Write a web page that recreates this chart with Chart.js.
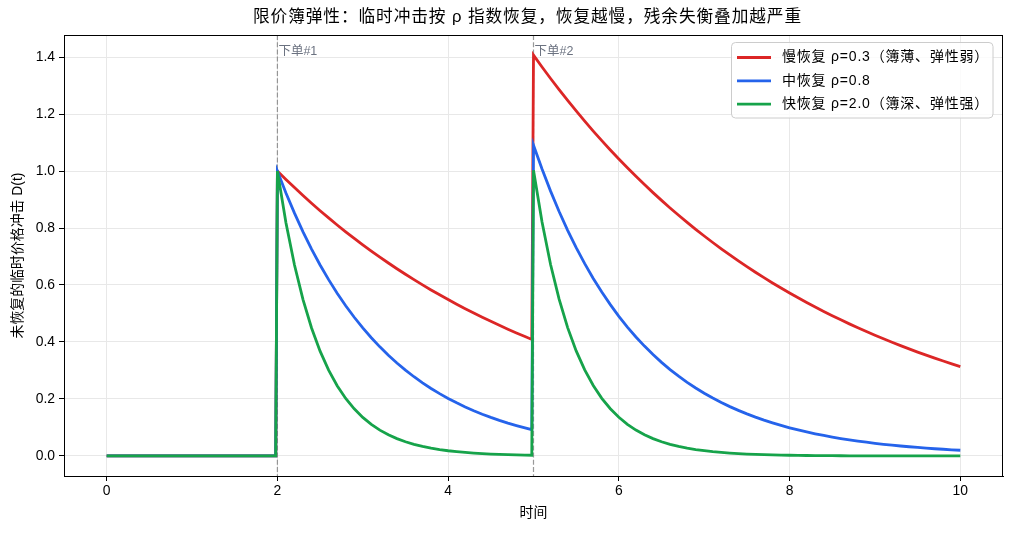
<!DOCTYPE html>
<html>
<head>
<meta charset="utf-8">
<script src="https://cdn.jsdelivr.net/npm/chart.js@4/dist/chart.umd.min.js"></script>
<style>
  html, body { margin: 0; padding: 0; background: #fff; }
  #wrap { width: 1012px; height: 534px; position: relative; }
</style>
</head>
<body>
<div id="wrap"><canvas id="c" width="1012" height="534"></canvas></div>
<script>
const FONT = '"Liberation Sans", "Noto Sans CJK SC", sans-serif';

const chartTitle = '限价簿弹性：临时冲击按 ρ 指数恢复，恢复越慢，残余失衡叠加越严重';
const xLabel = '时间';
const yLabel = '未恢复的临时价格冲击 D(t)';
const seriesNames = ['慢恢复 ρ=0.3（簿薄、弹性弱）', '中恢复 ρ=0.8', '快恢复 ρ=2.0（簿深、弹性强）'];
const seriesColors = ['#dc2626', '#2563eb', '#16a34a'];
const orderTimes = [2, 5];
const orderLabels = ['下单#1', '下单#2'];
const xTicks = [0, 2, 4, 6, 8, 10];
const yTicks = [0.0, 0.2, 0.4, 0.6, 0.8, 1.0, 1.2, 1.4];

const time = [0, 1.98,
  2.0, 2.1, 2.2, 2.3, 2.4, 2.5, 2.6, 2.7, 2.8, 2.9,
  3.0, 3.1, 3.2, 3.3, 3.4, 3.5, 3.6, 3.7, 3.8, 3.9,
  4.0, 4.1, 4.2, 4.3, 4.4, 4.5, 4.6, 4.7, 4.8, 4.9, 4.98,
  5.0, 5.1, 5.2, 5.3, 5.4, 5.5, 5.6, 5.7, 5.8, 5.9,
  6.0, 6.1, 6.2, 6.3, 6.4, 6.5, 6.6, 6.7, 6.8, 6.9,
  7.0, 7.1, 7.2, 7.3, 7.4, 7.5, 7.6, 7.7, 7.8, 7.9,
  8.0, 8.1, 8.2, 8.3, 8.4, 8.5, 8.6, 8.7, 8.8, 8.9,
  9.0, 9.1, 9.2, 9.3, 9.4, 9.5, 9.6, 9.7, 9.8, 9.9, 10.0];

const slow = [0, 0,
  1.0000, 0.9704, 0.9418, 0.9139, 0.8869, 0.8607, 0.8353, 0.8106, 0.7866, 0.7634,
  0.7408, 0.7189, 0.6977, 0.6771, 0.6570, 0.6376, 0.6188, 0.6005, 0.5827, 0.5655,
  0.5488, 0.5326, 0.5169, 0.5016, 0.4868, 0.4724, 0.4584, 0.4449, 0.4317, 0.4190, 0.4090,
  1.4066, 1.3650, 1.3247, 1.2855, 1.2475, 1.2107, 1.1749, 1.1402, 1.1064, 1.0738,
  1.0420, 1.0112, 0.9814, 0.9524, 0.9241, 0.8969, 0.8704, 0.8447, 0.8196, 0.7954,
  0.7719, 0.7491, 0.7271, 0.7056, 0.6847, 0.6645, 0.6448, 0.6258, 0.6072, 0.5894,
  0.5719, 0.5550, 0.5386, 0.5227, 0.5072, 0.4922, 0.4777, 0.4636, 0.4498, 0.4366,
  0.4237, 0.4112, 0.3990, 0.3872, 0.3757, 0.3646, 0.3539, 0.3434, 0.3332, 0.3234, 0.3138];

const medium = [0, 0,
  1.0000, 0.9231, 0.8521, 0.7866, 0.7261, 0.6703, 0.6188, 0.5712, 0.5273, 0.4868,
  0.4493, 0.4148, 0.3829, 0.3535, 0.3263, 0.3012, 0.2780, 0.2567, 0.2369, 0.2187,
  0.2019, 0.1864, 0.1720, 0.1588, 0.1466, 0.1353, 0.1249, 0.1153, 0.1065, 0.0983, 0.0922,
  1.0907, 1.0068, 0.9294, 0.8580, 0.7920, 0.7311, 0.6749, 0.6230, 0.5751, 0.5310,
  0.4901, 0.4524, 0.4176, 0.3856, 0.3559, 0.3285, 0.3032, 0.2800, 0.2584, 0.2385,
  0.2202, 0.2033, 0.1876, 0.1732, 0.1599, 0.1476, 0.1362, 0.1258, 0.1162, 0.1072,
  0.0989, 0.0913, 0.0843, 0.0779, 0.0719, 0.0663, 0.0612, 0.0565, 0.0521, 0.0482,
  0.0445, 0.0410, 0.0378, 0.0350, 0.0323, 0.0298, 0.0275, 0.0254, 0.0235, 0.0216, 0.0200];

const fast = [0, 0,
  1.0000, 0.8187, 0.6703, 0.5488, 0.4493, 0.3679, 0.3012, 0.2466, 0.2019, 0.1653,
  0.1353, 0.1108, 0.0907, 0.0743, 0.0608, 0.0498, 0.0408, 0.0334, 0.0273, 0.0224,
  0.0183, 0.0150, 0.0123, 0.0101, 0.0082, 0.0067, 0.0055, 0.0045, 0.0037, 0.0030, 0.0026,
  1.0025, 0.8208, 0.6720, 0.5502, 0.4504, 0.3688, 0.3020, 0.2472, 0.2024, 0.1657,
  0.1357, 0.1111, 0.0909, 0.0745, 0.0610, 0.0499, 0.0409, 0.0335, 0.0274, 0.0224,
  0.0184, 0.0150, 0.0123, 0.0101, 0.0082, 0.0068, 0.0055, 0.0045, 0.0037, 0.0030,
  0.0025, 0.0020, 0.0017, 0.0014, 0.0011, 0.0009, 0.0007, 0.0006, 0.0005, 0.0004,
  0.0003, 0.0003, 0.0002, 0.0002, 0.0002, 0.0001, 0.0001, 0.0001, 0.0001, 0.0001, 0.0000];

const seriesValues = [slow, medium, fast];

const datasets = seriesValues.map((vals, i) => ({
  label: seriesNames[i],
  data: time.map((t, j) => ({ x: t, y: vals[j] })),
  borderColor: seriesColors[i],
  backgroundColor: seriesColors[i],
  borderWidth: 2.8,
  pointRadius: 0,
  tension: 0,
  fill: false,
  order: seriesValues.length - i
}));

const decorPlugin = {
  id: 'decor',
  beforeDatasetsDraw(chart) {
    const { ctx, chartArea, scales } = chart;
    ctx.save();
    ctx.strokeStyle = 'rgba(128,128,128,0.8)';
    ctx.lineWidth = 1.2;
    ctx.setLineDash([5, 2.2]);
    orderTimes.forEach((t) => {
      const x = scales.x.getPixelForValue(t);
      ctx.beginPath();
      ctx.moveTo(x, chartArea.top);
      ctx.lineTo(x, chartArea.bottom);
      ctx.stroke();
    });
    ctx.setLineDash([]);
    ctx.fillStyle = '#6b7280';
    ctx.font = '12.5px ' + FONT;
    ctx.textAlign = 'left';
    ctx.textBaseline = 'middle';
    orderTimes.forEach((t, i) => {
      const x = scales.x.getPixelForValue(t);
      ctx.fillText(orderLabels[i], x + 1, chartArea.top + 17);
    });
    ctx.restore();
  },
  afterDraw(chart) {
    const { ctx, chartArea } = chart;
    ctx.save();
    // frame
    ctx.strokeStyle = '#000';
    ctx.lineWidth = 1;
    ctx.strokeRect(Math.round(chartArea.left) + 0.5, Math.round(chartArea.top) + 0.5,
      Math.round(chartArea.right - chartArea.left) - 1, Math.round(chartArea.bottom - chartArea.top));
    // title
    ctx.fillStyle = '#000';
    ctx.font = '16.7px ' + FONT;
    ctx.letterSpacing = '0.9px';
    ctx.textAlign = 'center';
    ctx.textBaseline = 'middle';
    ctx.fillText(chartTitle, (chartArea.left + chartArea.right) / 2 - 6, 17);
    // legend
    const bx = 731.5, by = 42.5, bw = 261.5, bh = 75.5, r = 4;
    ctx.beginPath();
    ctx.moveTo(bx + r, by);
    ctx.lineTo(bx + bw - r, by);
    ctx.quadraticCurveTo(bx + bw, by, bx + bw, by + r);
    ctx.lineTo(bx + bw, by + bh - r);
    ctx.quadraticCurveTo(bx + bw, by + bh, bx + bw - r, by + bh);
    ctx.lineTo(bx + r, by + bh);
    ctx.quadraticCurveTo(bx, by + bh, bx, by + bh - r);
    ctx.lineTo(bx, by + r);
    ctx.quadraticCurveTo(bx, by, bx + r, by);
    ctx.closePath();
    ctx.fillStyle = 'rgba(255,255,255,0.8)';
    ctx.fill();
    ctx.strokeStyle = '#cccccc';
    ctx.lineWidth = 1;
    ctx.stroke();
    ctx.font = '14px ' + FONT;
    ctx.letterSpacing = '0.8px';
    ctx.textAlign = 'left';
    ctx.textBaseline = 'middle';
    seriesNames.forEach((name, i) => {
      const y = 57.5 + i * 23.3;
      ctx.strokeStyle = seriesColors[i];
      ctx.lineWidth = 2.8;
      ctx.beginPath();
      ctx.moveTo(737, y);
      ctx.lineTo(771, y);
      ctx.stroke();
      ctx.fillStyle = '#000';
      ctx.fillText(name, 782, y);
    });
    ctx.letterSpacing = '0px';
    ctx.restore();
  }
};

new Chart(document.getElementById('c'), {
  type: 'line',
  data: { datasets },
  options: {
    responsive: false,
    animation: false,
    layout: { padding: { top: 35, right: 9, left: 0, bottom: 0 } },
    plugins: {
      legend: { display: false },
      title: { display: false },
      tooltip: { enabled: false }
    },
    scales: {
      x: {
        type: 'linear',
        min: -0.5,
        max: 10.5,
        afterFit(axis) { axis.height = 58; },
        afterBuildTicks(axis) { axis.ticks = xTicks.map(v => ({ value: v })); },
        ticks: {
          color: '#000',
          font: { family: FONT, size: 13.9 },
          padding: 2,
          maxRotation: 0,
          autoSkip: false,
          callback: (v) => String(v)
        },
        grid: { color: '#e8e8e8', lineWidth: 1, drawTicks: true, tickLength: 5, tickColor: '#000' },
        border: { display: true, color: '#000', width: 1 },
        title: {
          display: true, text: xLabel, color: '#000',
          font: { family: FONT, size: 13.9 },
          padding: { top: 0, bottom: 12 }
        }
      },
      y: {
        type: 'linear',
        min: -0.0703,
        max: 1.4773,
        afterFit(axis) { axis.width = 64; },
        afterBuildTicks(axis) { axis.ticks = yTicks.map(v => ({ value: v })); },
        ticks: {
          color: '#000',
          font: { family: FONT, size: 13.9 },
          padding: 4,
          autoSkip: false,
          callback: (v) => Number(v).toFixed(1)
        },
        grid: { color: '#e8e8e8', lineWidth: 1, drawTicks: true, tickLength: 5, tickColor: '#000' },
        border: { display: true, color: '#000', width: 1 },
        title: {
          display: true, text: yLabel, color: '#000',
          font: { family: FONT, size: 13.9 },
          padding: { top: 10, bottom: 0 }
        }
      }
    }
  },
  plugins: [decorPlugin]
});
</script>
</body>
</html>
